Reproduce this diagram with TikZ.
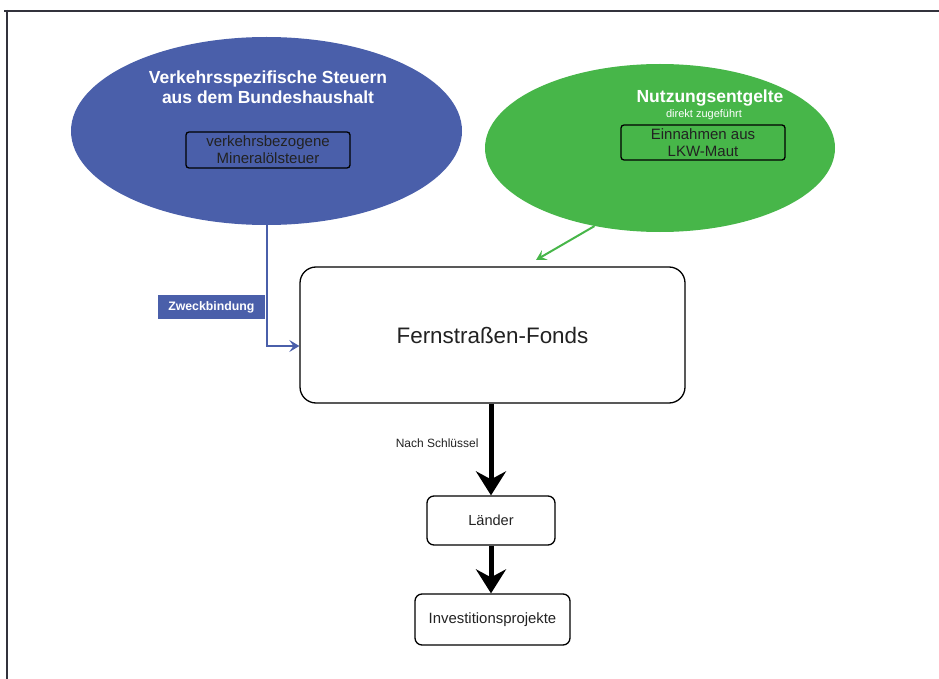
\documentclass[tikz,border=0pt]{standalone}
\usepackage{fontspec}
\setmainfont{Liberation Sans}
\usetikzlibrary{shapes.geometric,arrows.meta,calc}
\definecolor{bluefill}{RGB}{74,95,170}
\definecolor{greenfill}{RGB}{71,182,73}
\definecolor{darktext}{RGB}{34,34,34}
\definecolor{framecol}{RGB}{50,50,60}
\tikzset{
  ell/.style={ellipse, draw=none, inner sep=0pt},
  innerbox/.style={draw=black, line width=1.3pt, rounded corners=3pt, inner sep=0pt, text=darktext, align=center, font=\fontsize{15}{17}\selectfont},
  stepbox/.style={draw=black, line width=1.3pt, rounded corners=7pt, inner sep=0pt, text=darktext, align=center},
  thickarrow/.style={line width=5pt, -{Stealth[length=24pt,width=30pt,inset=8pt]}},
  title/.style={text=white, font=\bfseries\fontsize{17.5}{20}\selectfont, align=center},
}
\begin{document}
\begin{tikzpicture}[x=1pt,y=-1pt]
\useasboundingbox (0,0) rectangle (939,679);
% frame
\draw[framecol, line width=1.5pt] (4,11) -- (939,11);
\draw[framecol, line width=1.5pt] (7,10) -- (7,679);

% blue ellipse
\node[ell, fill=bluefill, minimum width=391pt, minimum height=188pt] (blue) at (266.5,131) {};
\node[title] (bluetitle) at (268,87) {Verkehrsspezifische Steuern\\aus dem Bundeshaushalt};
\node[innerbox, minimum width=164pt, minimum height=36pt] (mineral) at (268,150) {verkehrsbezogene\\Mineralölsteuer};

% green ellipse
\node[ell, fill=greenfill, minimum width=350pt, minimum height=168pt] (green) at (660,148) {};
\node[title] (greentitle) at (710,98) {Nutzungsentgelte};
\node[text=white, font=\fontsize{11}{13}\selectfont] (direkt) at (704,115) {direkt zugeführt};
\node[innerbox, minimum width=164pt, minimum height=35pt] (lkw) at (703,142.5) {Einnahmen aus\\LKW-Maut};

% fonds
\node[stepbox, rounded corners=16pt, minimum width=385pt, minimum height=136pt, font=\fontsize{22.4}{26}\selectfont] (fonds) at (492.5,335) {Fernstraßen-Fonds};

% Laender
\node[stepbox, minimum width=128pt, minimum height=49pt, font=\fontsize{14.6}{17}\selectfont] (laender) at (491,520.5) {Länder};
% Investitionsprojekte
\node[stepbox, minimum width=155pt, minimum height=51pt, font=\fontsize{14.9}{17}\selectfont] (invest) at (492.5,619.5) {Investitionsprojekte};

% blue connector
\coordinate (bluein) at ($(fonds.west)+(0,11)$);
\draw[bluefill, line width=2pt, -{Stealth[length=10pt,width=12pt,inset=4pt]}] (blue.south) |- (bluein);
\node[fill=bluefill, text=white, font=\bfseries\fontsize{12.3}{14}\selectfont, anchor=east, minimum width=107pt, minimum height=24pt, inner sep=0pt] (zweck) at (265,307) {Zweckbindung};

% green connector
\coordinate (greenin) at (536,260);
\draw[greenfill, line width=2pt, -{Stealth[length=10pt,width=11pt,inset=4pt]}] (green.230.4) -- (greenin);

% black arrows
\draw[thickarrow] (fonds.south -| laender.north) -- (laender.north);
\draw[thickarrow] (laender.south) -- (laender.south |- invest.north);
\node[text=darktext, font=\fontsize{12}{14}\selectfont, anchor=east] (schluessel) at (482,443) {Nach Schlüssel};
\end{tikzpicture}
\end{document}
